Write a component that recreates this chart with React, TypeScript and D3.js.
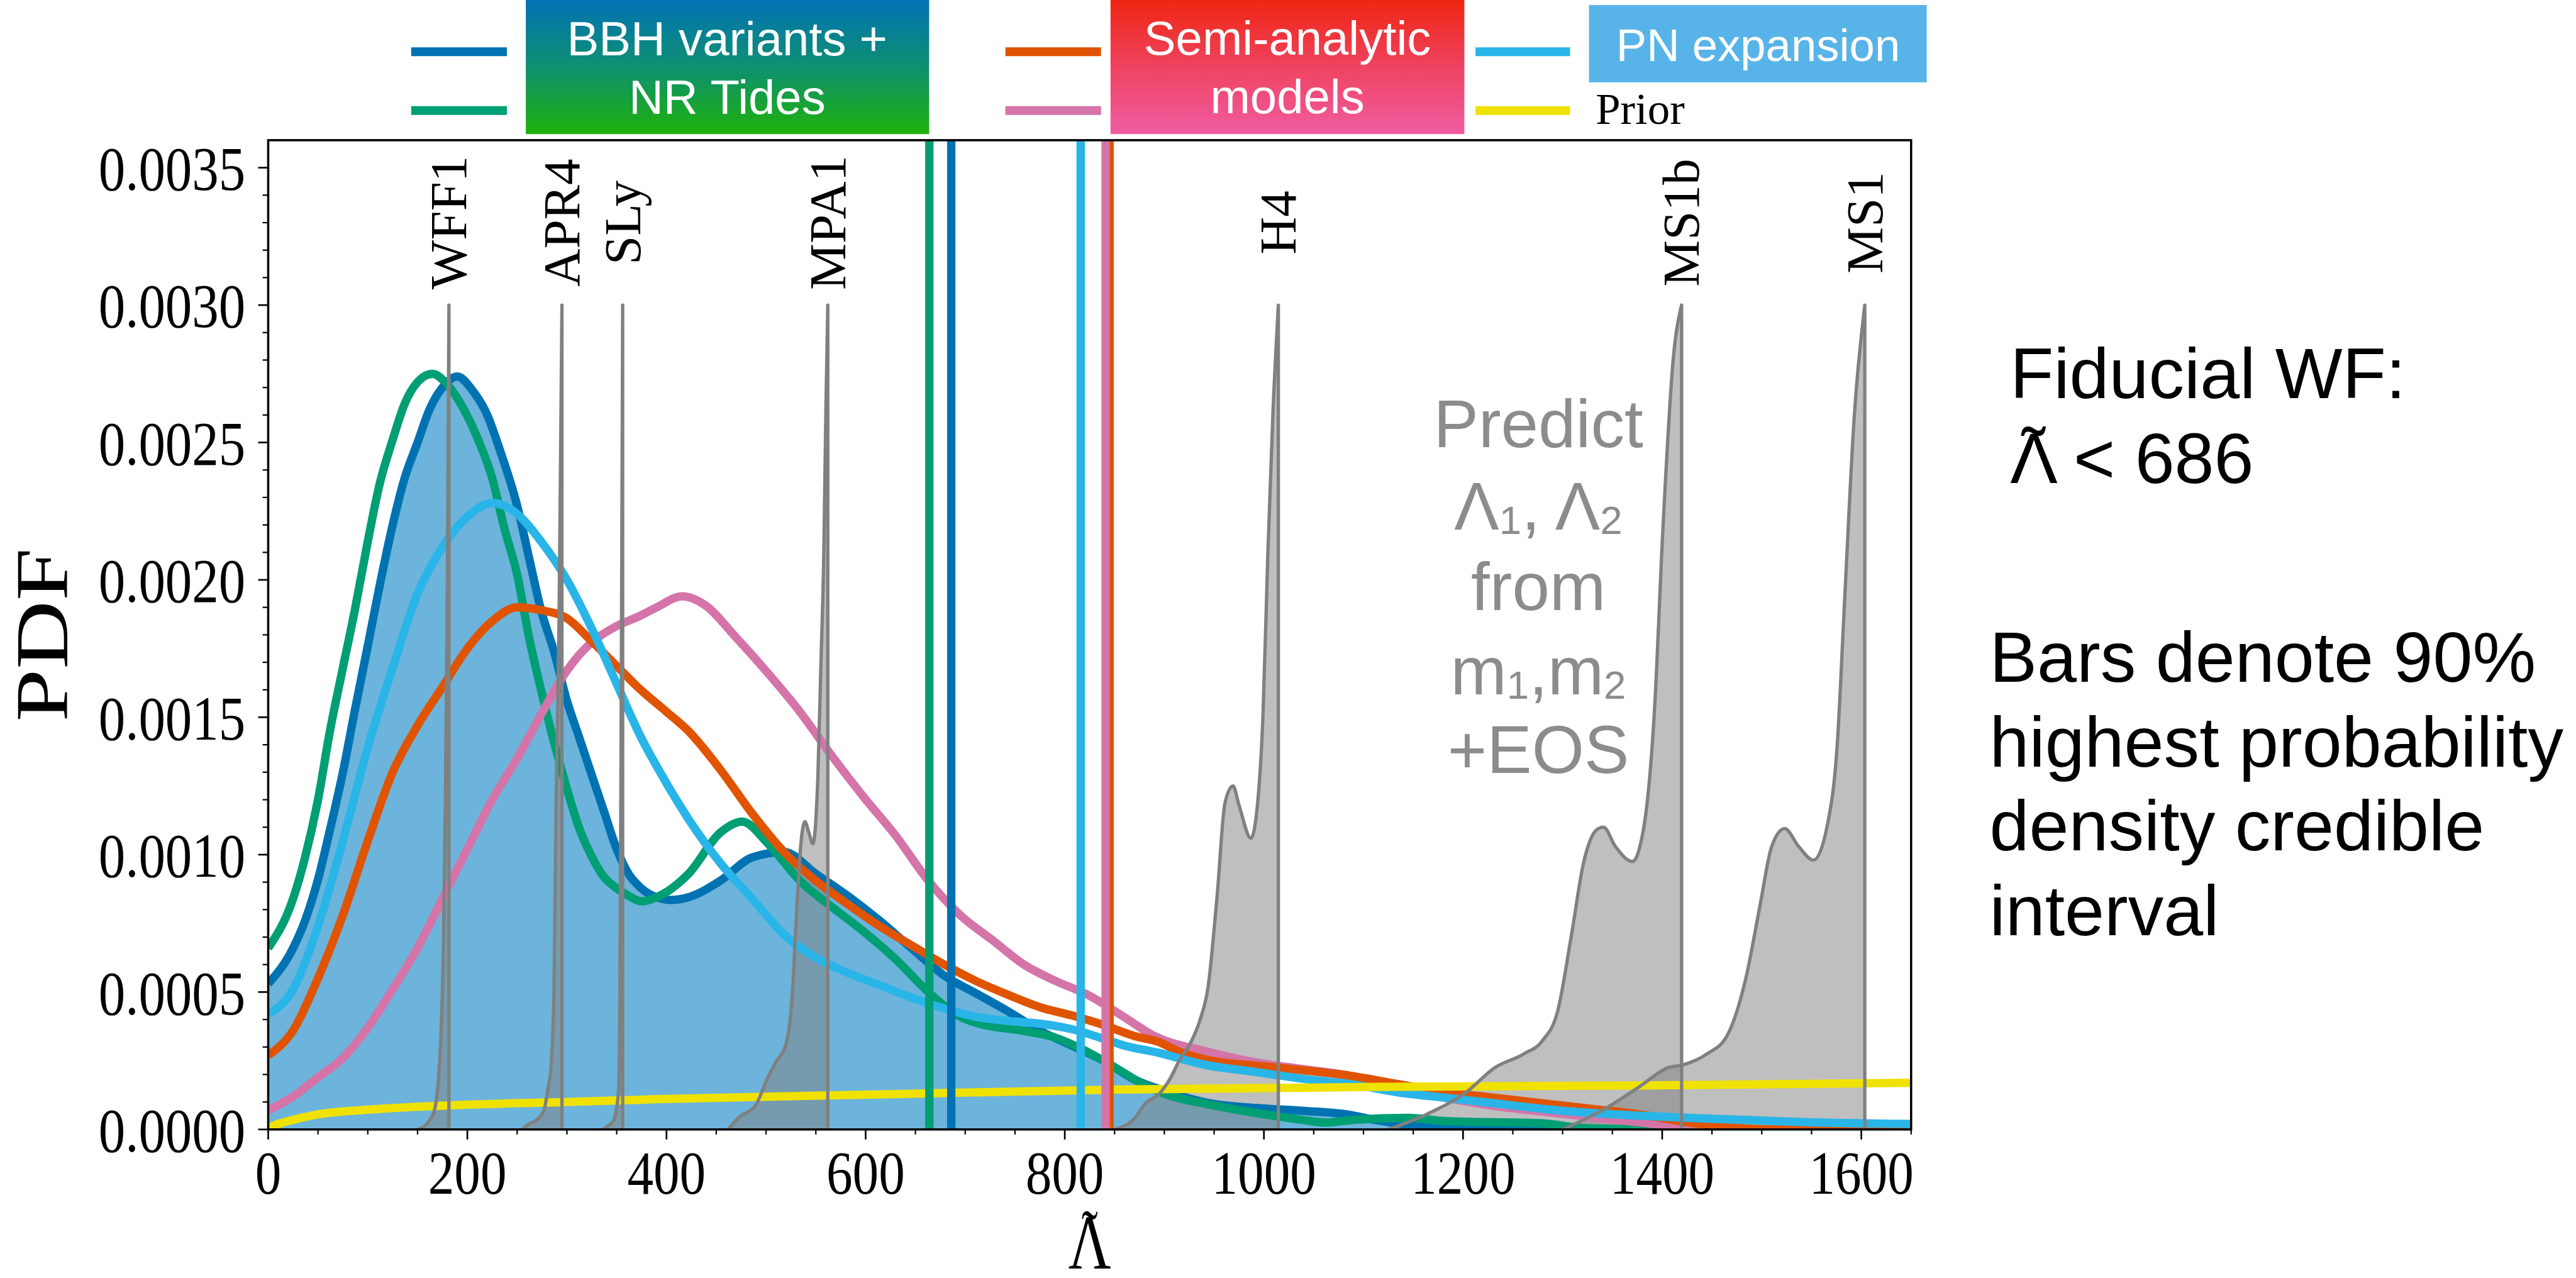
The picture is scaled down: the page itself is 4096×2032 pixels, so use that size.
import React from "react";
import * as d3 from "d3";

type Pt = [number, number];

// PDF values are given in units of 1e-4
const UNIT = 1e-4;

// ---------- posterior PDFs of tilde-Lambda (lambda, pdf/1e-4) ----------
const bbhVariants: Pt[] = [
  [0, 5.3], [25, 6.6], [37, 7.6], [50, 9.1], [62, 10.9], [75, 13.0], [87, 15.25], [100, 17.6],
  [112, 19.8], [125, 22.0], [137, 23.7], [150, 25.0], [162, 26.2], [175, 27.0], [190, 27.4],
  [205, 26.9], [220, 26.0], [232, 24.8], [250, 22.7], [262, 20.8], [274, 18.9], [287, 17.4],
  [300, 15.6], [312, 14.3], [324, 13.0], [337, 11.6], [349, 10.3], [362, 9.3], [374, 8.8],
  [390, 8.45], [405, 8.35], [422, 8.45], [454, 9.05], [486, 9.9], [518, 10.1], [550, 9.3],
  [582, 8.5], [614, 7.6], [646, 6.6], [679, 5.6], [711, 4.95], [743, 4.3], [775, 3.6],
  [807, 3.05], [839, 2.5], [871, 1.8], [899, 1.42], [946, 0.95], [992, 0.78], [1038, 0.68],
  [1085, 0.54], [1111, 0.35], [1150, 0.15], [1200, 0.04], [1260, 0], [1650, 0],
];

const nrTides: Pt[] = [
  [0, 6.6], [25, 8.4], [37, 9.9], [50, 12.0], [62, 14.5], [75, 16.8], [87, 18.9], [100, 21.4],
  [112, 23.5], [125, 25.1], [137, 26.4], [150, 27.2], [165, 27.5], [180, 27.1], [195, 26.3],
  [212, 25.0], [225, 23.7], [237, 21.9], [250, 20.2], [262, 17.9], [274, 16.0], [287, 14.1],
  [300, 12.4], [312, 11.0], [324, 10.0], [337, 9.2], [349, 8.8], [362, 8.5], [375, 8.3],
  [390, 8.45], [422, 9.3], [454, 10.8], [476, 11.2], [502, 10.4], [534, 9.05], [566, 8.1],
  [598, 7.2], [630, 6.2], [663, 5.0], [695, 4.1], [714, 3.85], [760, 3.58], [790, 3.35],
  [816, 2.95], [853, 2.2], [876, 1.7], [900, 1.3], [946, 0.9], [992, 0.6], [1038, 0.35],
  [1062, 0.25], [1090, 0.35], [1145, 0.42], [1183, 0.3], [1280, 0.22], [1320, 0.05],
  [1400, 0], [1650, 0],
];

const pnExpansion: Pt[] = [
  [0, 4.2], [25, 5.1], [50, 7.4], [75, 10.5], [100, 13.9], [125, 16.8], [150, 19.5],
  [175, 21.2], [200, 22.3], [225, 22.8], [250, 22.4], [274, 21.4], [300, 20.0], [324, 18.3],
  [349, 16.3], [374, 14.3], [400, 12.6], [422, 11.3], [454, 9.7], [486, 8.4], [518, 7.1],
  [550, 6.25], [582, 5.7], [614, 5.25], [646, 4.8], [679, 4.4], [711, 4.1], [743, 3.95],
  [775, 3.85], [807, 3.65], [839, 3.3], [860, 3.05], [893, 2.8], [941, 2.35], [990, 2.1],
  [1038, 1.85], [1087, 1.65], [1135, 1.35], [1183, 1.15], [1232, 0.95], [1280, 0.75],
  [1329, 0.6], [1377, 0.5], [1426, 0.42], [1474, 0.36], [1547, 0.26], [1650, 0.2],
];

const semiAnalyticA: Pt[] = [
  [0, 2.7], [25, 3.6], [50, 5.5], [75, 7.8], [100, 10.5], [125, 13.0], [150, 14.7],
  [175, 16.1], [200, 17.5], [225, 18.5], [250, 19.0], [274, 18.9], [300, 18.6], [324, 17.8],
  [349, 16.9], [374, 16.0], [400, 15.2], [422, 14.5], [454, 13.1], [486, 11.5], [518, 10.1],
  [550, 9.05], [582, 8.2], [614, 7.4], [646, 6.7], [679, 6.0], [711, 5.4], [743, 4.9],
  [775, 4.45], [807, 4.15], [839, 3.8], [870, 3.4], [893, 3.2], [917, 2.8], [941, 2.55],
  [1014, 2.25], [1087, 1.95], [1135, 1.65], [1183, 1.35], [1232, 1.15], [1280, 0.95],
  [1329, 0.75], [1377, 0.55], [1426, 0.26], [1474, 0.06], [1510, 0], [1650, 0],
];

const semiAnalyticB: Pt[] = [
  [0, 0.7], [25, 1.2], [50, 1.9], [75, 2.6], [100, 3.7], [125, 5.1], [150, 6.6], [175, 8.4],
  [200, 10.2], [225, 12.0], [250, 13.5], [274, 15.1], [300, 16.7], [324, 17.7], [349, 18.3],
  [374, 18.7], [390, 19.0], [416, 19.4], [438, 19.1], [470, 17.9], [502, 16.6], [534, 15.2],
  [566, 13.6], [598, 12.1], [630, 10.7], [663, 9.05], [695, 7.8], [727, 6.9], [759, 6.0],
  [791, 5.4], [823, 4.9], [855, 4.2], [890, 3.4], [941, 2.85], [990, 2.45], [1038, 2.2],
  [1087, 1.95], [1135, 1.55], [1183, 1.15], [1232, 0.85], [1280, 0.65], [1329, 0.45],
  [1377, 0.26], [1426, 0.06], [1460, 0], [1650, 0],
];

const prior: Pt[] = [
  [0, 0.05], [10, 0.2], [25, 0.35], [50, 0.55], [100, 0.72], [200, 0.9], [300, 1.0],
  [390, 1.1], [622, 1.28], [853, 1.45], [1116, 1.55], [1377, 1.6], [1650, 1.7],
];

// ---------- EOS predictions (rising side up to the spike) ----------
const eosWFF1: Pt[] = [[150, 0], [158, 0.15], [162, 0.33], [167, 0.7], [171, 1.86], [173, 3.0], [176, 6.8], [178, 12.0], [180, 20.2], [181.5, 30]];
const eosAPR4: Pt[] = [[255, 0], [262, 0.2], [269, 0.33], [277, 0.7], [281, 1.5], [284, 2.25], [287, 5], [289, 11.6], [292, 18.3], [294, 26], [295, 30]];
const eosSLy: Pt[] = [[336, 0], [342, 0.15], [347, 0.33], [350, 0.8], [352, 1.5], [353, 4], [354, 10.7], [355, 20], [356, 30]];
const eosMPA1: Pt[] = [[462, 0], [473, 0.45], [489, 0.85], [502, 1.9], [510, 2.46], [520, 3.1], [526, 4.75], [531, 8.1], [535, 10.4], [539, 11.2], [543, 10.8], [547, 10.4], [552, 12.8], [555, 16.8], [558, 21], [560, 26], [562, 30]];
const eosH4: Pt[] = [[850, 0], [870, 0.4], [881, 0.95], [895, 1.3], [905, 1.8], [915, 2.5], [927, 3.2], [936, 4.0], [944, 5.2], [953, 8.5], [961, 11.9], [969, 12.5], [975, 11.8], [987, 10.6], [994, 12.0], [999, 15.0], [1004, 21], [1009, 26], [1014.5, 30]];
const eosMS1b: Pt[] = [[1125, 0], [1164, 0.56], [1203, 1.35], [1232, 2.25], [1261, 2.75], [1280, 3.24], [1295, 4.3], [1309, 7.1], [1321, 9.7], [1334, 10.9], [1341, 11.0], [1353, 10.3], [1370, 9.75], [1382, 11.1], [1392, 15.1], [1401, 22.05], [1411, 28.0], [1419.5, 30]];
const eosMS1: Pt[] = [[1300, 0], [1343, 0.76], [1377, 1.55], [1406, 2.25], [1421, 2.35], [1445, 2.75], [1465, 3.4], [1484, 5.5], [1498, 8.1], [1510, 10.3], [1523, 10.95], [1537, 10.3], [1552, 9.8], [1566, 11.1], [1576, 14.1], [1583, 19.1], [1593, 26.0], [1603.5, 30]];

const eosNames = ["WFF1", "APR4", "SLy", "MPA1", "H4", "MS1b", "MS1"];
const eosCurves = [eosWFF1, eosAPR4, eosSLy, eosMPA1, eosH4, eosMS1b, eosMS1];
const eosLabelLevel = 0.0033;

// ---------- 90% HPD upper bounds ----------
const hpdSeries = ["nr", "bbh", "pn", "saA", "saB"];
const hpdUpper = [664, 686, 816, 845, 841];

// ---------- axes ----------
const xMajorTicks = [0, 200, 400, 600, 800, 1000, 1200, 1400, 1600];
const xMinorTicks = d3.range(0, 1651, 50).filter((v) => v % 200 !== 0);
const yMajorTicks = d3.range(0, 8).map((i) => i * 0.0005);
const yMinorTicks = d3.range(0, 36).filter((i) => i % 5 !== 0).map((i) => i * 0.0001);

const COLORS: Record<string, string> = {
  bbh: "#0072B2",
  nr: "#009E73",
  pn: "#2AB5E8",
  saA: "#E05400",
  saB: "#D474A8",
  prior: "#F0E200",
  fill: "#6CB4DC",
  gray: "#808080",
};

const serif = "'Liberation Serif', 'Times New Roman', serif";
const sans = "'Liberation Sans', Arial, Helvetica, sans-serif";

export default function App() {
  const x = d3.scaleLinear().domain([0, 1650]).range([482, 3435]);
  const y = d3.scaleLinear().domain([0, 0.0036]).range([2030, 252]);
  const [x0, x1] = x.range();
  const [yb, yt] = y.range();

  const lineGen = d3
    .line<Pt>()
    .x((d) => x(d[0]))
    .y((d) => y(d[1] * UNIT))
    .curve(d3.curveMonotoneX);
  const areaGen = d3
    .area<Pt>()
    .x((d) => x(d[0]))
    .y0(y(0))
    .y1((d) => y(d[1] * UNIT))
    .curve(d3.curveMonotoneX);

  const curves: { key: string; data: Pt[] }[] = [
    { key: "bbh", data: bbhVariants },
    { key: "nr", data: nrTides },
    { key: "saB", data: semiAnalyticB },
    { key: "saA", data: semiAnalyticA },
    { key: "pn", data: pnExpansion },
    { key: "prior", data: prior },
  ];

  const fmt = d3.format(".4f");
  const cx = (x0 + x1) / 2;

  return (
    <svg
      width={4096}
      height={2032}
      viewBox="0 0 4630 2297"
      style={{ position: "absolute", left: 0, top: 0, background: "#fff" }}
    >
      <defs>
        <clipPath id="plotClip">
          <rect x={x0} y={yt} width={x1 - x0} height={yb - yt} />
        </clipPath>
        <linearGradient id="gradBBH" x1="0" y1="0" x2="0" y2="1">
          <stop offset="0" stopColor="#0272B6" />
          <stop offset="0.5" stopColor="#0E9070" />
          <stop offset="1" stopColor="#1FB10A" />
        </linearGradient>
        <linearGradient id="gradSA" x1="0" y1="0" x2="0" y2="1">
          <stop offset="0" stopColor="#EF2512" />
          <stop offset="0.5" stopColor="#EF4360" />
          <stop offset="1" stopColor="#F05CA2" />
        </linearGradient>
      </defs>
      <rect x={0} y={0} width={4630} height={2297} fill="#fff" />

      <g clipPath="url(#plotClip)">
        {/* filled BBH posterior */}
        <path d={areaGen(bbhVariants) || ""} fill={COLORS.fill} />
        {/* EOS fills */}
        {eosCurves.map((c, i) => (
          <path key={"ef" + i} d={areaGen(c) || ""} fill={COLORS.gray} fillOpacity={0.5} />
        ))}
        {/* posterior curves */}
        {curves.map((c) => (
          <path
            key={c.key}
            d={lineGen(c.data) || ""}
            fill="none"
            stroke={COLORS[c.key]}
            strokeWidth={15}
            strokeLinejoin="round"
          />
        ))}
        {/* EOS outlines */}
        {eosCurves.map((c, i) => {
          const last = c[c.length - 1];
          return (
            <path
              key={"eo" + i}
              d={(lineGen(c) || "") + `L${x(last[0])},${y(0)}`}
              fill="none"
              stroke={COLORS.gray}
              strokeWidth={6}
              strokeLinejoin="round"
            />
          );
        })}
        {/* HPD bars */}
        {hpdUpper.map((v, i) => (
          <line
            key={"hpd" + i}
            x1={x(v)}
            x2={x(v)}
            y1={yt}
            y2={yb}
            stroke={COLORS[hpdSeries[i]]}
            strokeWidth={15}
          />
        ))}
      </g>

      {/* EOS labels */}
      {eosNames.map((n, i) => {
        const c = eosCurves[i];
        const px = x(c[c.length - 1][0]);
        return (
          <text
            key={"el" + n}
            transform={`translate(${px + 31},${y(eosLabelLevel)}) rotate(-90)`}
            textAnchor="middle"
            fontFamily={serif}
            fontSize={94}
            fill="#000"
          >
            {n}
          </text>
        );
      })}

      {/* Predict annotation */}
      <g fontFamily={sans} fontSize={121} fill="#8C8C8C" textAnchor="middle">
        <text x={2765} y={804}>Predict</text>
        <text x={2765} y={952}>
          Λ<tspan fontSize={72} dy={8}>1</tspan>
          <tspan dy={-8}>, Λ</tspan>
          <tspan fontSize={72} dy={8}>2</tspan>
        </text>
        <text x={2765} y={1097}>from</text>
        <text x={2765} y={1248}>
          m<tspan fontSize={72} dy={8}>1</tspan>
          <tspan dy={-8}>,m</tspan>
          <tspan fontSize={72} dy={8}>2</tspan>
        </text>
        <text x={2765} y={1389}>+EOS</text>
      </g>

      {/* frame */}
      <rect x={x0} y={yt} width={x1 - x0} height={yb - yt} fill="none" stroke="#000" strokeWidth={4} />

      {/* x ticks */}
      {xMajorTicks.map((t) => (
        <g key={"xt" + t}>
          <line x1={x(t)} x2={x(t)} y1={yb} y2={yb + 18} stroke="#000" strokeWidth={3} />
          <text
            transform={`translate(${x(t)},2145) scale(1,1.16)`}
            textAnchor="middle"
            fontFamily={serif}
            fontSize={94}
          >
            {t}
          </text>
        </g>
      ))}
      {xMinorTicks.map((t) => (
        <line key={"xm" + t} x1={x(t)} x2={x(t)} y1={yb} y2={yb + 9} stroke="#000" strokeWidth={2.5} />
      ))}

      {/* y ticks */}
      {yMajorTicks.map((t) => (
        <g key={"yt" + t}>
          <line x1={x0 - 18} x2={x0} y1={y(t)} y2={y(t)} stroke="#000" strokeWidth={3} />
          <text
            transform={`translate(441,${y(t) + 40}) scale(1,1.16)`}
            textAnchor="end"
            fontFamily={serif}
            fontSize={96}
          >
            {fmt(t)}
          </text>
        </g>
      ))}
      {yMinorTicks.map((t) => (
        <line key={"ym" + t} x1={x0 - 10} x2={x0} y1={y(t)} y2={y(t)} stroke="#000" strokeWidth={2.5} />
      ))}

      {/* axis labels */}
      <text
        transform={`translate(121,${(yt + yb) / 2}) rotate(-90) scale(1.28,1)`}
        textAnchor="middle"
        fontFamily={serif}
        fontSize={133}
      >
        PDF
      </text>
      <text
        transform={`translate(${cx},2280) scale(1,1.32)`}
        textAnchor="middle"
        fontFamily={serif}
        fontSize={106}
      >
        <tspan x={0} y={0}>Λ</tspan>
        <tspan x={0} y={-18} fontSize={88}>˜</tspan>
      </text>

      {/* legend */}
      <g strokeWidth={15.7}>
        <line x1={739} x2={911} y1={93} y2={93} stroke={COLORS.bbh} />
        <line x1={739} x2={911} y1={198.7} y2={198.7} stroke={COLORS.nr} />
        <line x1={1807} x2={1979} y1={93} y2={93} stroke={COLORS.saA} />
        <line x1={1807} x2={1979} y1={198.7} y2={198.7} stroke={COLORS.saB} />
        <line x1={2652} x2={2822} y1={93} y2={93} stroke={COLORS.pn} />
        <line x1={2652} x2={2822} y1={198.7} y2={198.7} stroke={COLORS.prior} />
      </g>
      <rect x={945} y={0} width={725} height={241} fill="url(#gradBBH)" />
      <rect x={1996} y={0} width={636} height={241} fill="url(#gradSA)" />
      <rect x={2856} y={9} width={607} height={139} fill="#58B4E8" />
      <g fontFamily={sans} fill="#fff" textAnchor="middle">
        <text x={1307} y={100} fontSize={86}>BBH variants +</text>
        <text x={1307} y={205} fontSize={86}>NR Tides</text>
        <text x={2314} y={98} fontSize={86}>Semi-analytic</text>
        <text x={2314} y={203} fontSize={86}>models</text>
        <text x={3160} y={110} fontSize={82}>PN expansion</text>
      </g>
      <text x={2868} y={223} fontFamily={serif} fontSize={80} fill="#000">
        Prior
      </text>

      {/* right-hand notes */}
      <g fontFamily={sans} fontSize={128} fill="#000">
        <text x={3613} y={716}>Fiducial WF:</text>
        <text x={3613} y={868}>
          Λ &lt; 686
          <tspan x={3634} y={858}>˜</tspan>
        </text>
        <text x={3576} y={1225}>Bars denote 90%</text>
        <text x={3576} y={1378}>highest probability</text>
        <text x={3576} y={1528}>density credible</text>
        <text x={3576} y={1681}>interval</text>
      </g>
    </svg>
  );
}
